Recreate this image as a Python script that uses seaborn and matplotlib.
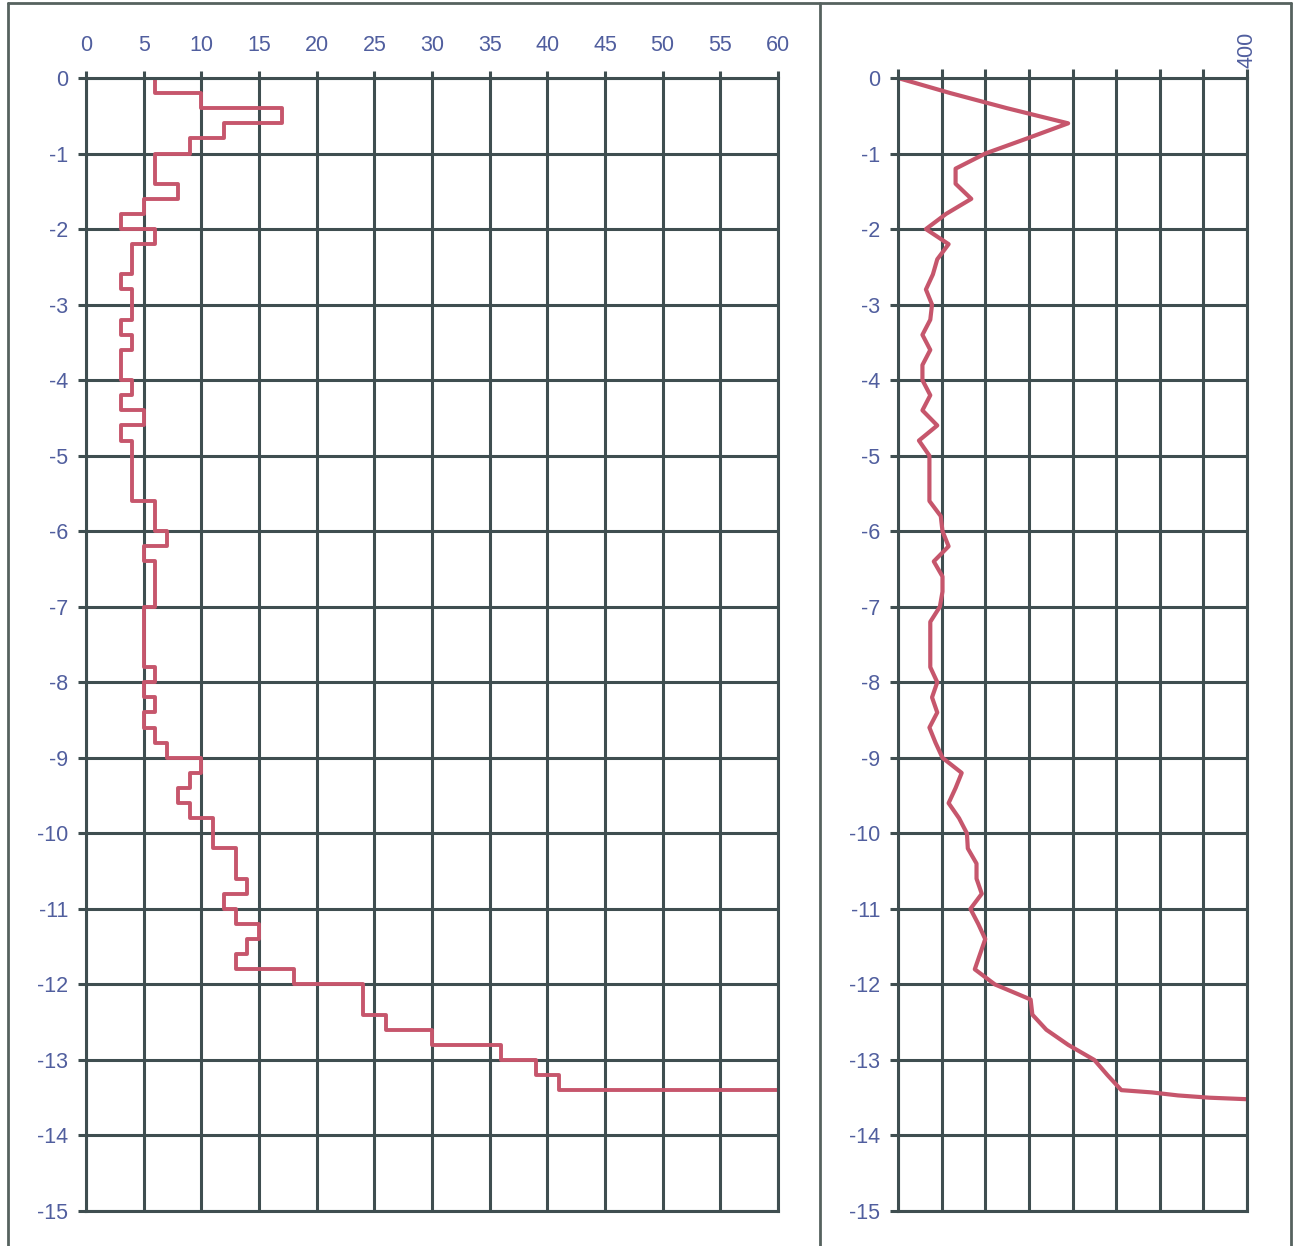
import matplotlib
matplotlib.use("Agg")
import matplotlib.pyplot as plt
import seaborn as sns
import pandas as pd
from matplotlib.lines import Line2D

# ---------------- data ----------------
# Left panel: step profile, value for each 0.2 m layer (top depth of layer)
step_depth = [0.0, 0.2, 0.4, 0.6, 0.8, 1.0, 1.2, 1.4, 1.6, 1.8,
              2.0, 2.2, 2.4, 2.6, 2.8, 3.0, 3.2, 3.4, 3.6, 3.8,
              4.0, 4.2, 4.4, 4.6, 4.8, 5.0, 5.2, 5.4, 5.6, 5.8,
              6.0, 6.2, 6.4, 6.6, 6.8, 7.0, 7.2, 7.4, 7.6, 7.8,
              8.0, 8.2, 8.4, 8.6, 8.8, 9.0, 9.2, 9.4, 9.6, 9.8,
              10.0, 10.2, 10.4, 10.6, 10.8, 11.0, 11.2, 11.4, 11.6, 11.8,
              12.0, 12.2, 12.4, 12.6, 12.8, 13.0, 13.2, 13.4]
step_value = [6, 10, 17, 12, 9, 6, 6, 8, 5, 3,
              6, 4, 4, 3, 4, 4, 3, 4, 3, 3,
              4, 3, 5, 3, 4, 4, 4, 4, 6, 6,
              7, 5, 6, 6, 6, 5, 5, 5, 5, 6,
              5, 6, 5, 6, 7, 10, 9, 8, 9, 11,
              11, 13, 13, 14, 12, 13, 15, 14, 13, 18,
              24, 24, 26, 30, 36, 39, 41, 60]

# Right panel: continuous profile
line_depth = [0.0, 0.2, 0.4, 0.6, 0.8, 1.0, 1.2, 1.4, 1.6, 1.8,
              2.0, 2.2, 2.4, 2.6, 2.8, 3.0, 3.2, 3.4, 3.6, 3.8,
              4.0, 4.2, 4.4, 4.6, 4.8, 5.0, 5.2, 5.4, 5.6, 5.8,
              6.0, 6.2, 6.4, 6.6, 6.8, 7.0, 7.2, 7.4, 7.6, 7.8,
              8.0, 8.2, 8.4, 8.6, 8.8, 9.0, 9.2, 9.4, 9.6, 9.8,
              10.0, 10.2, 10.4, 10.6, 10.8, 11.0, 11.2, 11.4, 11.6, 11.8,
              12.0, 12.2, 12.4, 12.6, 12.8, 13.0, 13.2, 13.4, 13.43, 13.47,
              13.5, 13.52]
line_value = [0, 60, 125, 195, 148, 100, 66, 66, 84, 55,
              32, 58, 45, 40, 32, 39, 37, 28, 37, 28,
              28, 37, 28, 45, 24, 36, 36, 36, 36, 49,
              51, 58, 41, 51, 51, 48, 37, 37, 37, 37,
              45, 39, 45, 36, 43, 51, 73, 66, 58, 70,
              79, 80, 90, 90, 96, 83, 92, 100, 94, 88,
              111, 152, 154, 170, 195, 225, 240, 256, 291, 321,
              357, 400]

left_xticks = [0, 5, 10, 15, 20, 25, 30, 35, 40, 45, 50, 55, 60]
right_xticks = [0, 50, 100, 150, 200, 250, 300, 350, 400]
right_xticklabels = ["", "", "", "", "", "", "", "", "400"]
yticks = [0, -1, -2, -3, -4, -5, -6, -7, -8, -9, -10, -11, -12, -13, -14, -15]

# ---------------- style ----------------
sns.set_theme(style="white")
plt.rcParams['font.family'] = ['Liberation Sans', 'DejaVu Sans']
plt.rcParams['axes.unicode_minus'] = False

GRID = '#3f4e50'
LABEL = '#505e9e'
LINE = '#c6566c'
FRAME = '#56625f'
FS = 15.5

df_step = pd.DataFrame({"value": step_value, "depth": [-d for d in step_depth]})
df_line = pd.DataFrame({"value": line_value, "depth": [-d for d in line_depth]})

W, H = 1299, 1246
fig = plt.figure(figsize=(W / 100, H / 100), dpi=100)
fig.patch.set_facecolor('white')

bottom = 1 - 1211 / H
height = (1211 - 78) / H
ax1 = fig.add_axes([86 / W, bottom, (778 - 86) / W, height])
ax2 = fig.add_axes([898 / W, bottom, (1247 - 898) / W, height])

sns.lineplot(data=df_step, x="value", y="depth", ax=ax1, sort=False,
             estimator=None, drawstyle="steps-pre", color=LINE, lw=2.8)
sns.lineplot(data=df_line, x="value", y="depth", ax=ax2, sort=False,
             estimator=None, color=LINE, lw=3.0)

for ax in (ax1, ax2):
    ax.set_ylim(-15, 0)
    ax.set_yticks(yticks)
    ax.set_yticklabels([str(t) for t in yticks])
    ax.grid(True, color=GRID, lw=2.2)
    ax.set_axisbelow(True)
    ax.xaxis.tick_top()
    ax.tick_params(axis='y', left=True, length=6, width=2.2, color=GRID,
                   labelcolor=LABEL, labelsize=FS, pad=7)
    for s in ax.spines.values():
        s.set_color(GRID)
        s.set_linewidth(2.2)
    ax.set_xlabel("")
    ax.set_ylabel("")
    ax.set_facecolor('white')

ax1.set_xlim(0, 60)
ax1.set_xticks(left_xticks)
ax1.set_xticklabels([str(t) for t in left_xticks])
ax1.tick_params(axis='x', top=True, bottom=False, length=5, width=2.2, color=GRID,
                labelcolor=LABEL, labelsize=FS, pad=11)

ax2.set_xlim(0, 400)
ax2.set_xticks(right_xticks)
ax2.set_xticklabels(right_xticklabels, rotation=90)
ax2.tick_params(axis='x', top=True, bottom=False, length=6.5, width=2.2, color=GRID,
                labelcolor=LABEL, labelsize=FS, pad=1)

# panel frames
def fl(x0, y0, x1, y1):
    fig.add_artist(Line2D([x0 / W, x1 / W], [1 - y0 / H, 1 - y1 / H],
                          transform=fig.transFigure, color=FRAME, lw=2.0))

fl(8, 3, 1291, 3)
fl(8, 3, 8, H + 5)
fl(820, 3, 820, H + 5)
fl(1291, 3, 1291, H + 5)

fig.savefig("out.png", dpi=100, facecolor='white')
